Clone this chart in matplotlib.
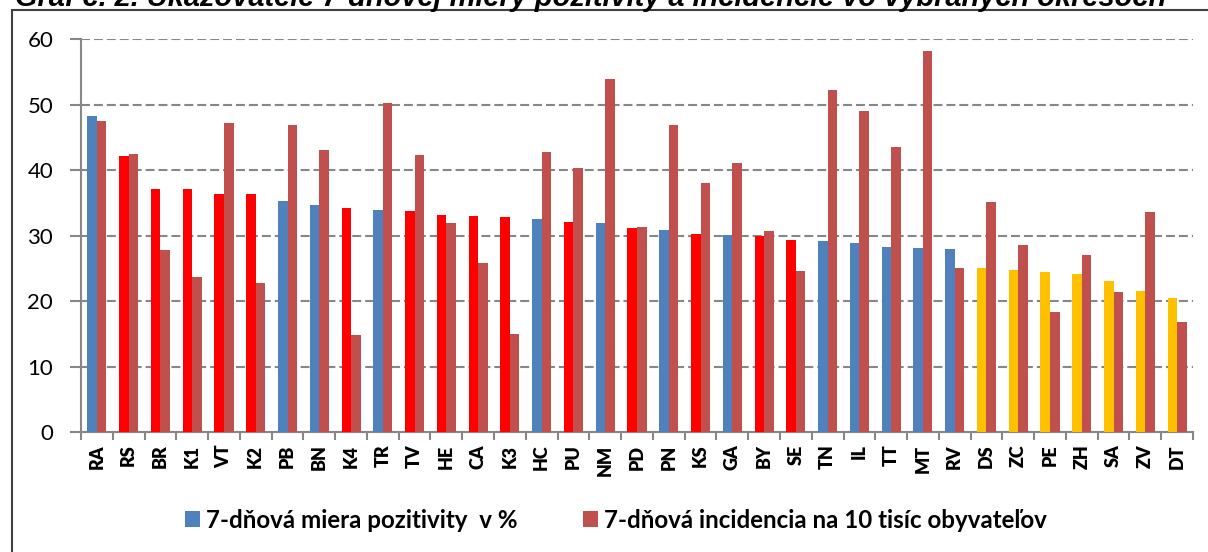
import matplotlib
matplotlib.use('Agg')
import matplotlib.pyplot as plt
import numpy as np
from matplotlib.patches import Patch, Rectangle

# ---------------- data ----------------
districts = ['RA', 'RS', 'BR', 'K1', 'VT', 'K2', 'PB', 'BN', 'K4', 'TR', 'TV', 'HE',
             'CA', 'K3', 'HC', 'PU', 'NM', 'PD', 'PN', 'KS', 'GA', 'BY', 'SE', 'TN',
             'IL', 'TT', 'MT', 'RV', 'DS', 'ZC', 'PE', 'ZH', 'SA', 'ZV', 'DT']
positivity = [48.3, 42.2, 37.1, 37.1, 36.4, 36.4, 35.3, 34.7, 34.2, 33.9, 33.7, 33.2,
              33.0, 32.9, 32.5, 32.1, 32.0, 31.2, 30.8, 30.3, 30.1, 30.0, 29.4, 29.2,
              28.9, 28.2, 28.1, 28.0, 25.0, 24.7, 24.4, 24.1, 23.0, 21.5, 20.5]
incidence = [47.5, 42.4, 27.8, 23.7, 47.2, 22.8, 46.9, 43.1, 14.8, 50.3, 42.3, 32.0,
             25.8, 14.9, 42.8, 40.3, 54.0, 31.3, 46.9, 38.0, 41.1, 30.7, 24.6, 52.2,
             49.1, 43.6, 58.2, 25.0, 35.2, 28.6, 18.3, 27.0, 21.4, 33.6, 16.8]
# colour group of each positivity bar
pos_group = ['b', 'r', 'r', 'r', 'r', 'r', 'b', 'b', 'r', 'b', 'r', 'r',
             'r', 'r', 'b', 'r', 'b', 'r', 'b', 'r', 'b', 'r', 'r', 'b',
             'b', 'b', 'b', 'b', 'y', 'y', 'y', 'y', 'y', 'y', 'y']
yticks = [0, 10, 20, 30, 40, 50, 60]
legend_labels = ['7-dňová miera pozitivity  v %', '7-dňová incidencia na 10 tisíc obyvateľov']
title = 'Graf č. 2. Ukazovatele 7-dňovej miery pozitivity a incidencie vo vybraných okresoch'

# ---------------- style ----------------
group_colors = {'b': '#4F81BD', 'r': '#FF0000', 'y': '#FFC000'}
inc_color = '#C0504D'
grid_color = '#878787'
W, H = 1208, 552

fig = plt.figure(figsize=(W / 100, H / 100), dpi=100)
ax = fig.add_axes([81 / W, 1 - 432 / H, (1193 - 81) / W, (432 - 39.3) / H])

x = np.arange(len(districts))
bw = 0.3
ax.bar(x - bw / 2, positivity, width=bw, color=[group_colors[g] for g in pos_group],
       zorder=3, linewidth=0)
ax.bar(x + bw / 2, incidence, width=bw, color=inc_color, zorder=3, linewidth=0)

ax.set_xlim(-0.5, len(districts) - 0.5)
ax.set_ylim(0, 60)
ax.set_yticks(yticks)
ax.set_yticklabels([str(v) for v in yticks], fontfamily='Lato', fontsize=16)
ax.yaxis.grid(True, color=grid_color, linewidth=1.5, linestyle=(0, (4.3, 1.9)), zorder=0)
ax.set_axisbelow(True)

ax.set_xticks(x)
ax.set_xticklabels(districts, rotation=90, fontfamily='Lato', fontweight='heavy', fontsize=13)
ax.set_xticks(np.arange(-0.5, len(districts), 1), minor=True)
ax.tick_params(axis='x', which='major', length=0, pad=9)
ax.tick_params(axis='x', which='minor', length=6, width=1.5, color=grid_color)
ax.tick_params(axis='y', length=8, width=1.5, color=grid_color, pad=12)

for s in ['top', 'right']:
    ax.spines[s].set_visible(False)
for s in ['left', 'bottom']:
    ax.spines[s].set_color(grid_color)
    ax.spines[s].set_linewidth(1.5)

# outer frame (extends beyond right and bottom edges)
frame = Rectangle((12 / W, -0.2), 1.2, 1.2 - 10 / H, transform=fig.transFigure,
                  fill=False, edgecolor='#404040', linewidth=1.5, zorder=0)
fig.patches.append(frame)

# title, partly cut at top edge
t = fig.text(15 / W, 1 - 6 / H, title, fontfamily='Liberation Sans', fontweight='bold',
             fontstyle='italic', fontsize=18, va='baseline', ha='left')
fig.canvas.draw()
bb = t.get_window_extent()
t.set_fontsize(18 * (1152 / bb.width))

handles = [Patch(facecolor='#4F81BD'), Patch(facecolor=inc_color)]
fig.legend(handles, legend_labels, loc='center', bbox_to_anchor=(616 / W, 1 - 520 / H),
           ncol=2, frameon=False, prop={'family': 'Lato', 'weight': 'bold', 'size': 17.4},
           handlelength=0.62, handleheight=0.62, handletextpad=0.25, columnspacing=2.7)

fig.savefig('out.png', dpi=100)
